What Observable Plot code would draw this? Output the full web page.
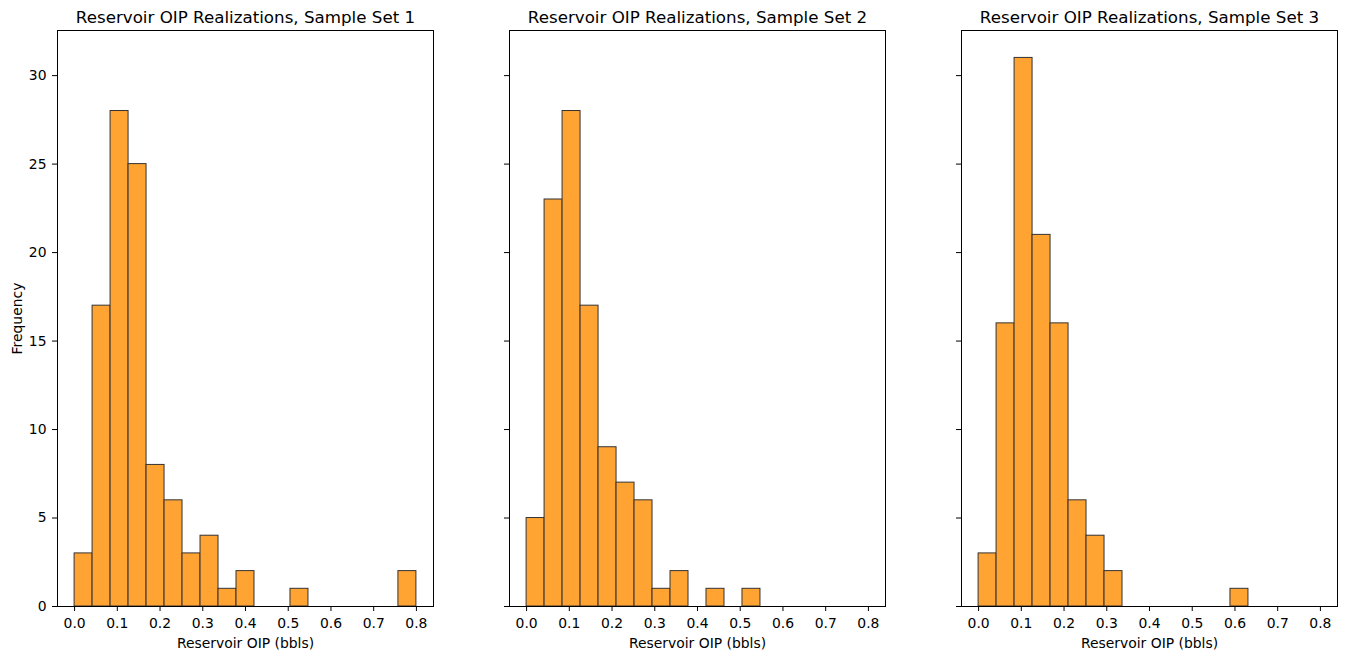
<!DOCTYPE html>
<html>
<head>
<meta charset="utf-8">
<script src="https://cdn.jsdelivr.net/npm/d3@7"></script>
<script src="https://cdn.jsdelivr.net/npm/@observablehq/plot@0.6"></script>
<style>
  html, body { margin: 0; padding: 0; background: #fff; overflow: hidden; }
  #wrap { position: relative; width: 1347px; height: 659px; }
  .panel { position: absolute; top: 0; }
</style>
</head>
<body>
<div id="wrap"></div>
<script>
// Histogram counts (19 equal bins over 0 .. 0.8)
const binStart = 0;
const binEnd = 0.8;
const binCount = 19;
const counts1 = [3, 17, 28, 25, 8, 6, 3, 4, 1, 2, 0, 0, 1, 0, 0, 0, 0, 0, 2];
const counts2 = [5, 23, 28, 17, 9, 7, 6, 1, 2, 0, 1, 0, 1, 0, 0, 0, 0, 0, 0];
const counts3 = [3, 16, 31, 21, 16, 6, 4, 2, 0, 0, 0, 0, 0, 0, 1, 0, 0, 0, 0];
const titles = [
  "Reservoir OIP Realizations, Sample Set 1",
  "Reservoir OIP Realizations, Sample Set 2",
  "Reservoir OIP Realizations, Sample Set 3"
];
const xTicks = [0, 0.1, 0.2, 0.3, 0.4, 0.5, 0.6, 0.7, 0.8];
const yTicks = [0, 5, 10, 15, 20, 25, 30];
const xLabel = "Reservoir OIP (bbls)";
const yLabel = "Frequency";

const allCounts = [counts1, counts2, counts3];
const step = (binEnd - binStart) / binCount;
const font = "DejaVu Sans, sans-serif";

const wrap = document.getElementById("wrap");
allCounts.forEach((counts, k) => {
  const rows = counts.map((c, i) => ({x1: binStart + i * step, x2: binStart + (i + 1) * step, y: c}));
  const first = k === 0;
  const plot = Plot.plot({
    width: 452,
    height: 659,
    marginLeft: 57,
    marginRight: 19,
    marginTop: 30,
    marginBottom: 53,
    style: {fontFamily: font, fontSize: "13.9px", color: "#000", background: "transparent", overflow: "visible"},
    x: {domain: [-0.04, 0.84]},
    y: {domain: [0, 32.55]},
    marks: [
      Plot.rectY(rows, {x1: "x1", x2: "x2", y: "y", fill: "#ffa333", stroke: "#333", strokeWidth: 1, inset: 0}),
      Plot.frame({stroke: "#000", strokeWidth: 1}),
      Plot.axisX({ticks: xTicks, tickFormat: d3.format(".1f"), tickSize: 5, tickPadding: 7,
        label: xLabel, labelAnchor: "center", labelArrow: "none", labelOffset: 41, fontSize: 13.9}),
      Plot.axisY({ticks: yTicks, tickSize: 5, tickPadding: 6,
        tickFormat: first ? d3.format("d") : () => "",
        label: first ? yLabel : null, labelAnchor: "center", labelArrow: "none", labelOffset: 45, fontSize: 13.9}),
      Plot.text([titles[k]], {frameAnchor: "top", lineAnchor: "bottom", dy: -8, text: d => d, fontSize: 16.7, fill: "#000"})
    ]
  });
  plot.classList.add("panel");
  plot.style.left = (k * 452) + "px";
  wrap.appendChild(plot);
});
</script>
</body>
</html>
